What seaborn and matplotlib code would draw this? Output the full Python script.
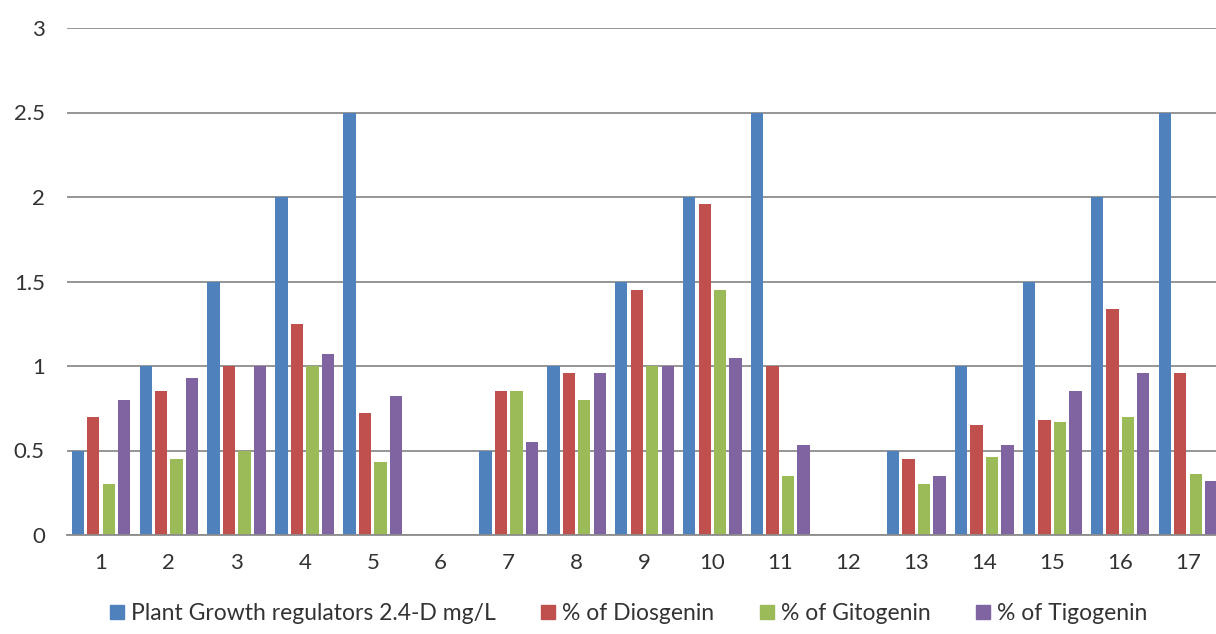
import matplotlib
matplotlib.use("Agg")
import matplotlib.pyplot as plt
import seaborn as sns
import pandas as pd

categories = [str(i) for i in range(1, 18)]
pgr_24d = [0.5, 1.0, 1.5, 2.0, 2.5, 0, 0.5, 1.0, 1.5, 2.0, 2.5, 0, 0.5, 1.0, 1.5, 2.0, 2.5]
diosgenin = [0.70, 0.85, 1.0, 1.25, 0.72, 0, 0.85, 0.96, 1.45, 1.96, 1.0, 0, 0.45, 0.65, 0.68, 1.34, 0.96]
gitogenin = [0.30, 0.45, 0.5, 1.0, 0.43, 0, 0.85, 0.80, 1.0, 1.45, 0.35, 0, 0.30, 0.46, 0.67, 0.70, 0.36]
tigogenin = [0.80, 0.93, 1.0, 1.07, 0.82, 0, 0.55, 0.96, 1.0, 1.05, 0.53, 0, 0.35, 0.53, 0.85, 0.96, 0.32]
series_names = ["Plant Growth regulators 2.4-D mg/L", "% of Diosgenin",
                "% of Gitogenin", "% of Tigogenin"]
y_ticks = [0, 0.5, 1, 1.5, 2, 2.5, 3]
y_tick_labels = ["0", "0.5", "1", "1.5", "2", "2.5", "3"]

colors = ["#4F81BD", "#C0504D", "#9BBB59", "#8064A2"]

rows = []
for name, vals in zip(series_names, [pgr_24d, diosgenin, gitogenin, tigogenin]):
    for c, v in zip(categories, vals):
        rows.append({"cat": c, "val": v, "series": name})
df = pd.DataFrame(rows)

sns.set_theme(style="white")
plt.rcParams['font.family'] = ['Lato', 'DejaVu Sans']

fig = plt.figure(figsize=(12.16, 6.34), dpi=100)
ax = fig.add_axes([67/1216, 99/634, 1155/1216, 507/634])

sns.barplot(data=df, x="cat", y="val", hue="series", order=categories,
            hue_order=series_names, palette=colors, width=0.91, gap=0.2,
            saturation=1, ax=ax, edgecolor="none", linewidth=0)

ax.set_xlim(-0.5, 16.5)
ax.set_ylim(0, 3)
ax.set_yticks(y_ticks)
ax.set_yticklabels(y_tick_labels)
ax.set_xlabel("")
ax.set_ylabel("")
ax.yaxis.grid(True, color="#8c8c8c", linewidth=1.3)
ax.set_axisbelow(True)
for s in ["top", "right", "left"]:
    ax.spines[s].set_visible(False)
ax.spines["bottom"].set_color("#8c8c8c")
ax.spines["bottom"].set_linewidth(1.3)
ax.tick_params(axis="both", length=0, labelsize=16, colors="#333333")
ax.tick_params(axis="y", pad=16)
ax.tick_params(axis="x", pad=13)

ax.legend_.remove()
handles = [plt.Rectangle((0, 0), 1, 1, color=c) for c in colors]
fig.legend(handles, series_names, loc="center", bbox_to_anchor=(0.517, 0.032),
           ncol=4, frameon=False, fontsize=16.5, handlelength=0.6, handleheight=0.6,
           handletextpad=0.3, columnspacing=2.0, labelcolor="#333333")

fig.savefig("out.png", dpi=100)
